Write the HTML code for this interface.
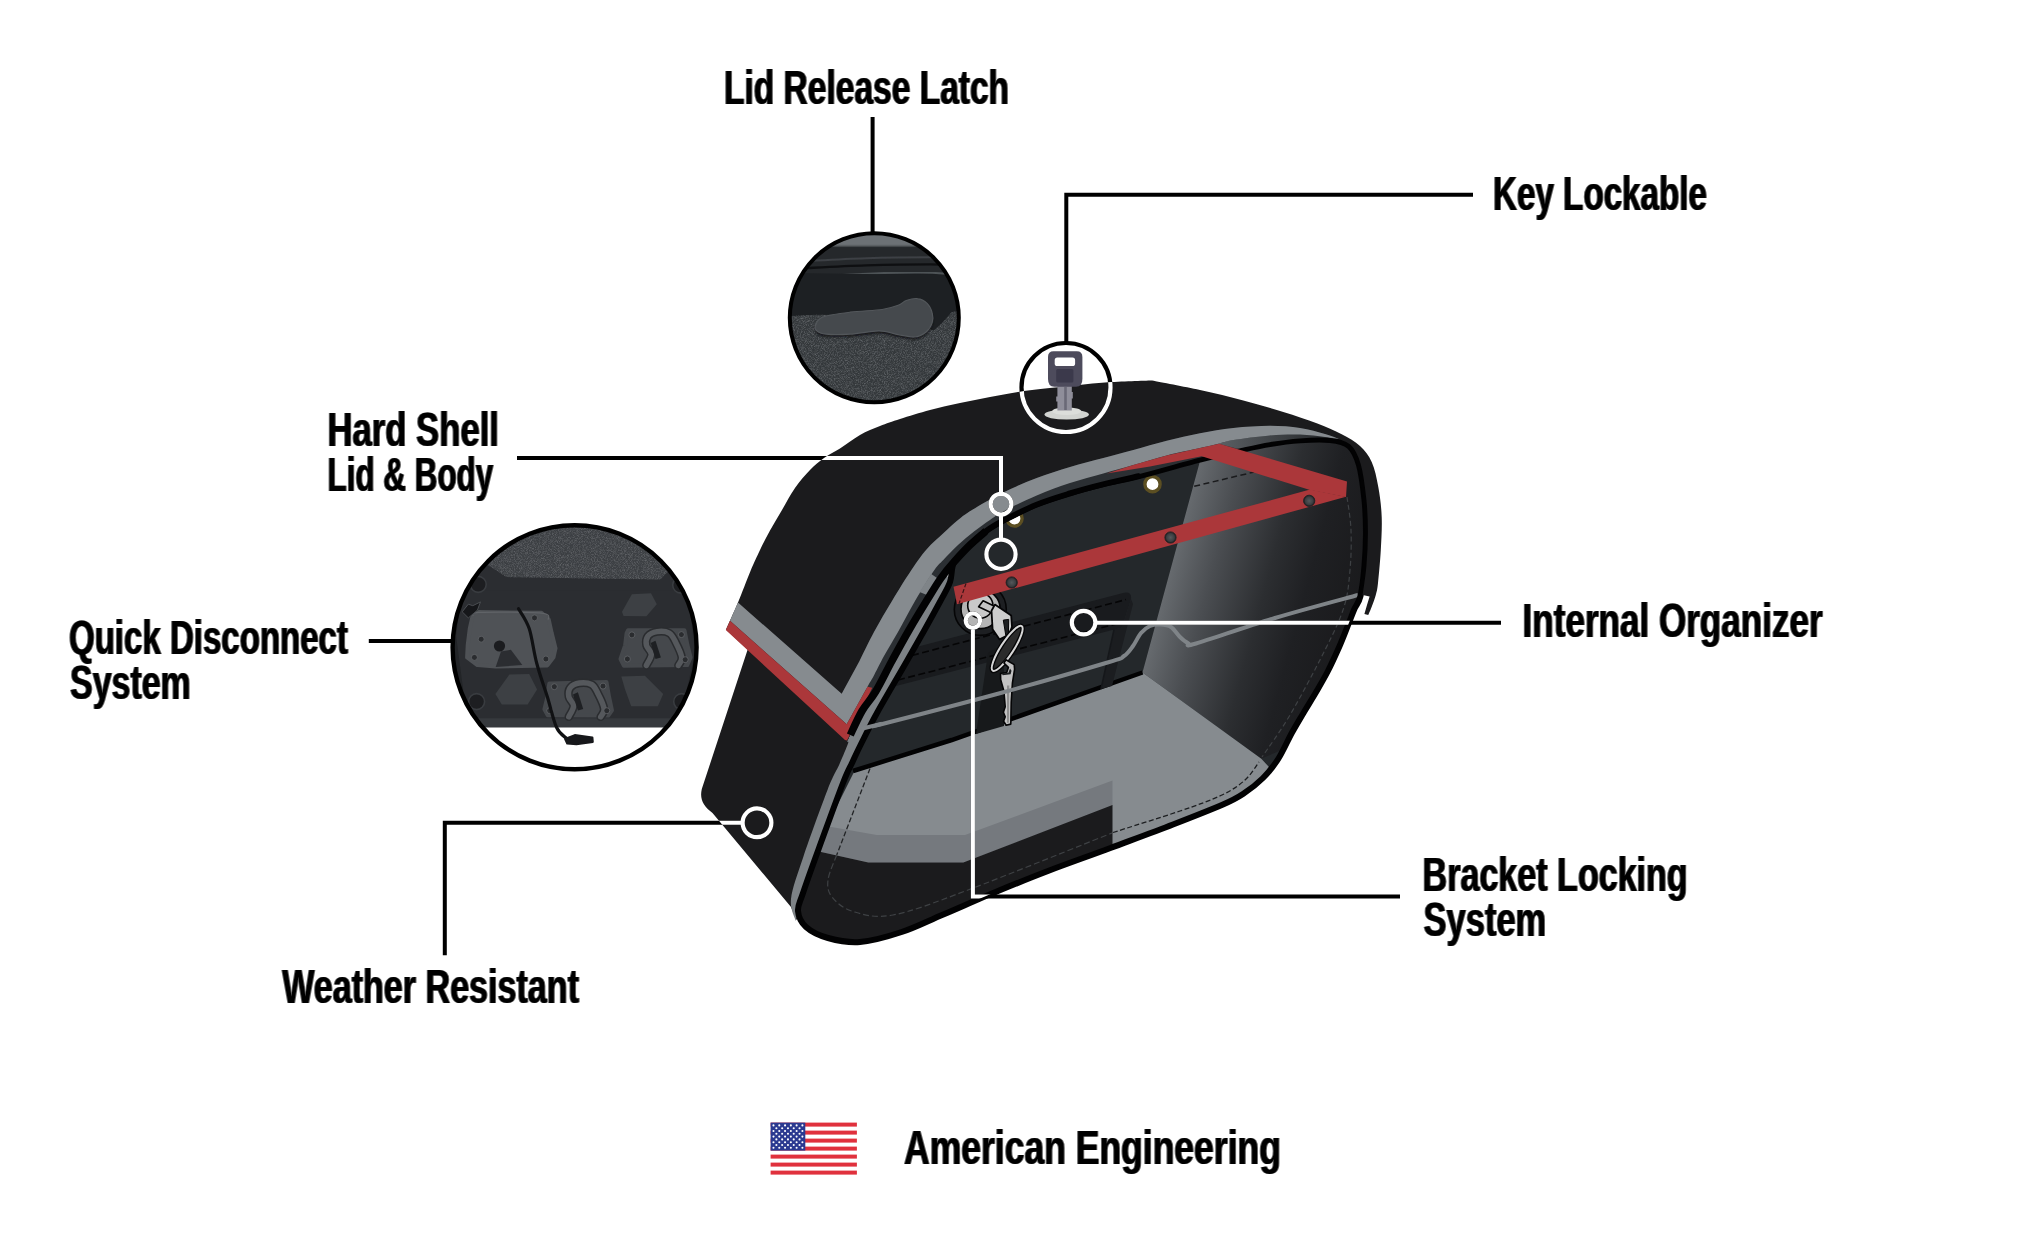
<!DOCTYPE html>
<html><head><meta charset="utf-8"><title>Saddlebag Features</title>
<style>html,body{margin:0;padding:0;background:#fff;overflow:hidden}svg{display:block}text{font-family:"Liberation Sans",sans-serif;font-weight:bold;fill:#000}</style>
</head><body>
<svg width="2044" height="1248" viewBox="0 0 2044 1248">
<rect width="2044" height="1248" fill="#fff"/>
<defs>
<linearGradient id="rw" gradientUnits="userSpaceOnUse" x1="1172" y1="565" x2="1365" y2="617">
<stop offset="0" stop-color="#666a6e"/><stop offset="0.2" stop-color="#4b4e52"/><stop offset="0.48" stop-color="#2c2e31"/><stop offset="0.68" stop-color="#1f2023"/><stop offset="1" stop-color="#19191b"/></linearGradient>
<linearGradient id="rw2" gradientUnits="userSpaceOnUse" x1="1220" y1="440" x2="1340" y2="440">
<stop offset="0" stop-color="#5a5f63"/><stop offset="1" stop-color="#1e2023"/></linearGradient>
<radialGradient id="rv"><stop offset="0" stop-color="#55585b"/><stop offset="0.7" stop-color="#3a3d40"/><stop offset="1" stop-color="#1a1b1d"/></radialGradient>
</defs>
<path d="M760,640 L747.5,650 L701.8,789 C699.5,799 703,806 712.5,813 L791,907 L796.5,920 L880,760 L850,735 Z" fill="#1b1b1d"/>
<clipPath id="bodyclip"><path d="M798.0,911.0 C797.5,905.3 799.5,903.5 803.0,893.0 C806.5,882.5 812.3,866.3 819.0,848.0 C825.7,829.7 837.4,797.3 843.0,783.0 C848.6,768.7 849.4,768.7 852.5,762.0 C855.6,755.3 857.3,751.3 861.5,743.0 C865.7,734.7 869.9,725.7 877.5,712.0 C885.1,698.3 899.1,674.7 906.9,661.0 C914.7,647.3 918.9,640.0 924.5,630.0 C930.1,620.0 936.1,609.0 940.4,601.0 C944.6,593.0 947.7,588.5 950.0,582.0 C952.3,575.5 950.9,567.9 954.2,561.7 C957.5,555.5 964.7,550.1 970.0,545.0 C975.3,539.9 980.5,535.1 986.0,531.0 C991.5,526.9 994.8,524.9 1003.3,520.5 C1011.8,516.1 1025.6,509.0 1036.7,504.5 C1047.8,500.0 1058.9,496.7 1070.0,493.3 C1081.1,489.9 1091.6,487.1 1103.3,484.2 C1115.0,481.3 1123.9,479.9 1140.0,475.8 C1156.1,471.7 1183.0,463.8 1200.0,459.5 C1217.0,455.2 1230.0,452.4 1241.7,449.8 C1253.4,447.2 1260.3,445.6 1270.0,444.0 C1279.7,442.4 1290.0,441.0 1300.0,440.3 C1310.0,439.6 1321.8,439.1 1330.0,440.0 C1338.2,440.9 1344.2,441.8 1349.0,446.0 C1353.8,450.2 1356.4,456.0 1359.0,465.0 C1361.6,474.0 1363.3,488.7 1364.5,500.0 C1365.7,511.3 1366.0,522.0 1366.0,533.0 C1366.0,544.0 1365.4,555.5 1364.5,566.0 C1363.6,576.5 1362.2,588.8 1360.5,596.0 C1358.8,603.2 1356.4,604.3 1354.4,609.0 C1352.4,613.7 1351.0,617.8 1348.5,624.0 C1346.0,630.2 1342.9,638.6 1339.4,646.5 C1335.9,654.4 1331.6,663.9 1327.7,671.5 C1323.8,679.1 1320.0,685.4 1316.0,692.3 C1312.0,699.2 1307.5,706.1 1303.5,712.9 C1299.5,719.7 1296.0,725.4 1291.8,733.0 C1287.6,740.6 1283.3,751.0 1278.5,758.5 C1273.7,766.0 1268.9,772.1 1263.0,778.0 C1257.1,783.9 1249.7,789.6 1243.0,794.0 C1236.3,798.4 1234.7,799.4 1223.0,804.5 C1211.3,809.6 1191.8,817.2 1173.0,824.5 C1154.2,831.8 1131.3,840.2 1110.5,848.0 C1089.7,855.8 1066.8,863.8 1048.0,871.0 C1029.2,878.2 1015.5,883.8 998.0,891.0 C980.5,898.2 959.3,907.7 943.3,914.5 C927.2,921.3 915.6,927.4 901.7,932.0 C887.8,936.6 872.3,941.0 860.0,942.0 C847.7,943.0 837.0,940.5 828.0,938.0 C819.0,935.5 811.0,931.5 806.0,927.0 C801.0,922.5 798.5,916.7 798.0,911.0Z"/></clipPath>
<g clip-path="url(#bodyclip)">
<rect x="780" y="420" width="620" height="540" fill="#24282b"/>
<path d="M1201.3,456.3 L1142.5,672.5 L1261.3,758.8 L1400.0,700.0 L1400.0,420.0 L1201.0,420.0Z" fill="url(#rw)"/>
<path d="M855.0,770.0 L951.7,740.0 L1142.5,672.5 L1261.3,758.8 L1300.0,800.0 L1000.0,960.0 L780.0,960.0 L790.0,900.0Z" fill="#868b8f"/>
<path d="M853,771 L951.7,740 L1142.5,672.5" fill="none" stroke="#020203" stroke-width="4.5"/>
<path d="M790.0,822.0 L830.0,826.7 L876.7,835.0 L965.0,835.0 L1112.5,780.6 L1112.5,806.0 L963.3,862.5 L868.3,862.5 L820.0,851.7 L790.0,848.0Z" fill="#75797e"/>
<path d="M780.0,846.0 L820.0,851.7 L868.3,862.5 L963.3,862.5 L1112.5,805.0 L1112.5,960.0 L780.0,960.0Z" fill="#1b1b1d"/>
<path d="M905,650.1 L1124,592.8 Q1132,591.5 1131,599 L1122,627.5 L895,686.3 Z" fill="#191b1e"/>
<path d="M1122,627.5 L1131,599 L1133,604 L1112,686 L1101,689 L1114,629.5 Z" fill="#1b1d20"/>
<path d="M1114,629.5 L1101,689" stroke="#15171a" stroke-width="1.5" fill="none"/>
<path d="M988,653 L996,648 L1004,650 L1004,726 L976,734 Z" fill="#17191b"/>
<path d="M912,655.4 L1126,599.6" stroke="#050506" stroke-width="1.6" stroke-dasharray="7 3.5" fill="none"/>
<path d="M898,680 L1119,623.2" stroke="#050506" stroke-width="1.6" stroke-dasharray="7 3.5" fill="none"/>
<path d="M1194.2,486.3 L1254.2,472" stroke="#1a1b1d" stroke-width="1.5" stroke-dasharray="6 3.5" fill="none"/>
<path d="M870,768.5 L836.7,855" stroke="#222426" stroke-width="1.3" stroke-dasharray="5 2.5" fill="none"/>
<path d="M836.7,855.0 C835.2,859.2 828.8,873.0 828.0,880.0 C827.2,887.0 827.8,891.8 832.0,897.0 C836.2,902.2 842.8,908.5 853.0,911.5 C863.2,914.5 873.8,918.6 893.0,915.0 C912.2,911.4 931.5,903.7 968.0,890.0 C1004.5,876.3 1088.0,842.5 1112.0,833.0" stroke="#3e4144" stroke-width="1.2" stroke-dasharray="6 3" fill="none"/>
<path d="M1113.0,832.5 C1124.2,828.9 1161.8,817.2 1180.0,811.0 C1198.2,804.8 1211.2,800.2 1222.0,795.0 C1232.8,789.8 1238.8,785.5 1245.0,780.0 C1251.2,774.5 1256.7,765.0 1259.0,762.0" stroke="#1c1e20" stroke-width="1.3" stroke-dasharray="5 2.5" fill="none"/>
<path d="M1347.0,497.0 C1347.7,502.5 1350.5,517.8 1351.0,530.0 C1351.5,542.2 1351.2,557.2 1350.0,570.0 C1348.8,582.8 1348.2,593.7 1344.0,607.0 C1339.8,620.3 1334.0,632.0 1325.0,650.0 C1316.0,668.0 1300.5,697.2 1290.0,715.0 C1279.5,732.8 1266.7,750.0 1262.0,757.0" stroke="#3e4144" stroke-width="1.2" stroke-dasharray="5 3" fill="none"/>
<circle cx="980.3" cy="609.4" r="26" fill="#1d1f22" stroke="#050506" stroke-width="1.6"/>
<circle cx="980.6" cy="609" r="19.6" fill="#b4b4b4" stroke="#050506" stroke-width="1.6"/>
<circle cx="980.3" cy="605.6" r="12.6" fill="#c9c9c9" stroke="#050506" stroke-width="1.6"/>
<path d="M953.5,586.7 L1310,489.6 L1346,496.8 L957,604.2 Z" fill="#ab373a"/>
<path d="M966,583.5 L959,603.5" stroke="#3a1517" stroke-width="1.2" stroke-dasharray="4 2" fill="none"/>
<circle cx="1011.7" cy="582.5" r="5.6" fill="url(#rv)" stroke="#222426" stroke-width="1"/>
<circle cx="1170.5" cy="537.5" r="5.6" fill="url(#rv)" stroke="#222426" stroke-width="1"/>
<circle cx="1309.2" cy="500.8" r="5.6" fill="url(#rv)" stroke="#222426" stroke-width="1"/>
<circle cx="1152.5" cy="484.2" r="7.6" fill="#fff" stroke="#5c4f22" stroke-width="3.4"/>
<circle cx="1014.5" cy="518.5" r="7.6" fill="#fff" stroke="#5c4f22" stroke-width="3.4"/>
<path d="M978.6,606.8 L983.1,600.7 L995.5,606.8 L991.8,613.0Z" fill="#c4c4c4" stroke="#050506" stroke-width="1.6" stroke-linejoin="round"/>
<path d="M994.9,604.6 L1011.2,615.6 L1012.0,627.0 L1008.6,634.9 L999.6,639.4 L992.6,629.3 L991.5,610.8Z" fill="#cdcdcd" stroke="#050506" stroke-width="1.8" stroke-linejoin="round"/>
<path d="M1003.3,620.1 L1008.7,619.4 L1008.4,634.3 L1005.8,635.5Z" fill="#1d1f21" stroke="#050506" stroke-width="1" stroke-linejoin="round"/>
<ellipse cx="1007.2" cy="648.4" rx="26.6" ry="6.4" transform="rotate(-57 1007.2 648.4)" fill="#2b2b2b" stroke="#050506" stroke-width="4.6"/>
<ellipse cx="1007.2" cy="648.4" rx="26.6" ry="6.4" transform="rotate(-57 1007.2 648.4)" fill="none" stroke="#d6d6d6" stroke-width="2"/>
<path d="M1005.9,659.8 L1014.2,664.6 L1014.6,669.1 L1012.4,683.2 L1011.2,702.2 L1010.8,724.1 L1006.1,725.2 L1003.6,721.3 L1005.2,716.8 L1003.4,712.3 L1005.2,706.7 L1003.9,691.0 L1000.7,679.8 L1000.5,673.6 L1006.7,672.5 L1008.4,667.4 L1003.9,663.0Z" fill="#c2c2c2" stroke="#050506" stroke-width="1.6" stroke-linejoin="round"/>
<path d="M1001.9,673.6 L1008.4,672.8 L1010.0,668.6 L1011.5,670.8 L1010.6,674.2 L1002.7,675.3Z" fill="#1d1f21"/>
<path d="M1007.0,685.4 L1009.3,685.4 L1008.9,722.4 L1007.0,723.0Z" fill="#8e8e8e"/>
<path d="M866.0,727.5 C870.0,726.6 867.2,727.8 890.0,722.0 C912.8,716.2 966.2,702.4 1002.5,692.5 C1038.8,682.6 1087.2,668.6 1107.5,662.5 C1127.8,656.4 1119.8,658.8 1124.0,656.0 C1128.2,653.2 1130.2,649.8 1133.0,646.0 C1135.8,642.2 1138.2,636.3 1141.0,633.0 C1143.8,629.7 1146.8,627.4 1150.0,626.0 C1153.2,624.6 1156.5,624.3 1160.0,624.5 C1163.5,624.7 1167.7,624.9 1171.0,627.0 C1174.3,629.1 1177.2,634.3 1180.0,637.0 C1182.8,639.7 1185.3,641.9 1188.0,643.0 C1190.7,644.1 1181.5,647.7 1196.0,643.5 C1210.5,639.3 1248.0,626.1 1275.0,618.0 C1302.0,609.9 1344.2,598.8 1358.0,595.0" stroke="#7f8488" stroke-width="4" fill="none"/>
</g>
<path d="M795.8,921.0 C795.0,917.3 789.8,909.7 791.0,899.0 C792.2,888.3 797.2,875.2 803.3,857.0 C809.4,838.8 821.5,805.5 827.5,790.0 C833.5,774.5 836.1,771.8 839.5,764.0 C842.9,756.2 846.6,747.6 848.0,743.5 C849.4,739.4 845.7,744.9 848.0,739.5 C850.3,734.1 857.4,718.9 862.0,711.0 C866.6,703.1 870.4,700.3 875.4,692.0 C880.4,683.7 886.3,671.3 891.9,661.0 C897.5,650.7 903.3,640.0 909.1,630.0 C914.9,620.0 921.2,609.6 926.5,601.0 C931.8,592.4 937.4,582.6 940.8,578.3 C944.2,574.0 946.0,575.5 947.0,575.0 L950.0,582.0 C948.4,585.2 944.6,593.0 940.4,601.0 C936.1,609.0 930.1,620.0 924.5,630.0 C918.9,640.0 914.7,647.3 906.9,661.0 C899.1,674.7 885.1,698.3 877.5,712.0 C869.9,725.7 865.7,734.7 861.5,743.0 C857.3,751.3 855.6,755.3 852.5,762.0 C849.4,768.7 848.6,768.7 843.0,783.0 C837.4,797.3 825.7,829.7 819.0,848.0 C812.3,866.3 806.5,882.5 803.0,893.0 C799.5,903.5 798.8,908.0 798.0,911.0 Z" fill="#7d8286"/>
<path d="M798.0,911.0 C797.5,905.3 799.5,903.5 803.0,893.0 C806.5,882.5 812.3,866.3 819.0,848.0 C825.7,829.7 837.4,797.3 843.0,783.0 C848.6,768.7 849.4,768.7 852.5,762.0 C855.6,755.3 857.3,751.3 861.5,743.0 C865.7,734.7 869.9,725.7 877.5,712.0 C885.1,698.3 899.1,674.7 906.9,661.0 C914.7,647.3 918.9,640.0 924.5,630.0 C930.1,620.0 936.1,609.0 940.4,601.0 C944.6,593.0 947.7,588.5 950.0,582.0 C952.3,575.5 950.9,567.9 954.2,561.7 C957.5,555.5 964.7,550.1 970.0,545.0 C975.3,539.9 980.5,535.1 986.0,531.0 C991.5,526.9 994.8,524.9 1003.3,520.5 C1011.8,516.1 1025.6,509.0 1036.7,504.5 C1047.8,500.0 1058.9,496.7 1070.0,493.3 C1081.1,489.9 1091.6,487.1 1103.3,484.2 C1115.0,481.3 1123.9,479.9 1140.0,475.8 C1156.1,471.7 1183.0,463.8 1200.0,459.5 C1217.0,455.2 1230.0,452.4 1241.7,449.8 C1253.4,447.2 1260.3,445.6 1270.0,444.0 C1279.7,442.4 1290.0,441.0 1300.0,440.3 C1310.0,439.6 1321.8,439.1 1330.0,440.0 C1338.2,440.9 1344.2,441.8 1349.0,446.0 C1353.8,450.2 1356.4,456.0 1359.0,465.0 C1361.6,474.0 1363.3,488.7 1364.5,500.0 C1365.7,511.3 1366.0,522.0 1366.0,533.0 C1366.0,544.0 1365.4,555.5 1364.5,566.0 C1363.6,576.5 1362.2,588.8 1360.5,596.0 C1358.8,603.2 1356.4,604.3 1354.4,609.0 C1352.4,613.7 1351.0,617.8 1348.5,624.0 C1346.0,630.2 1342.9,638.6 1339.4,646.5 C1335.9,654.4 1331.6,663.9 1327.7,671.5 C1323.8,679.1 1320.0,685.4 1316.0,692.3 C1312.0,699.2 1307.5,706.1 1303.5,712.9 C1299.5,719.7 1296.0,725.4 1291.8,733.0 C1287.6,740.6 1283.3,751.0 1278.5,758.5 C1273.7,766.0 1268.9,772.1 1263.0,778.0 C1257.1,783.9 1249.7,789.6 1243.0,794.0 C1236.3,798.4 1234.7,799.4 1223.0,804.5 C1211.3,809.6 1191.8,817.2 1173.0,824.5 C1154.2,831.8 1131.3,840.2 1110.5,848.0 C1089.7,855.8 1066.8,863.8 1048.0,871.0 C1029.2,878.2 1015.5,883.8 998.0,891.0 C980.5,898.2 959.3,907.7 943.3,914.5 C927.2,921.3 915.6,927.4 901.7,932.0 C887.8,936.6 872.3,941.0 860.0,942.0 C847.7,943.0 837.0,940.5 828.0,938.0 C819.0,935.5 811.0,931.5 806.0,927.0 C801.0,922.5 798.5,916.7 798.0,911.0Z" fill="none" stroke="#020203" stroke-width="6" stroke-linejoin="round"/>
<path d="M861.5,728.7 L882,723.8" stroke="#7f8488" stroke-width="4" fill="none"/>
<path d="M726.0,629.5 C728.0,625.0 733.9,612.2 738.0,602.5 C742.1,592.8 746.8,579.8 750.5,571.0 C754.2,562.2 756.8,556.8 760.0,550.0 C763.2,543.2 766.3,537.2 770.0,530.5 C773.7,523.8 777.8,517.1 782.0,510.0 C786.2,502.9 790.3,494.7 795.0,488.0 C799.7,481.3 805.2,475.0 810.0,470.0 C814.8,465.0 819.0,461.6 824.0,458.0 C829.0,454.4 834.0,452.3 840.0,448.5 C846.0,444.7 853.3,438.8 860.0,435.0 C866.7,431.2 873.3,428.7 880.0,426.0 C886.7,423.3 891.7,421.7 900.0,419.0 C908.3,416.3 920.0,412.7 930.0,410.0 C940.0,407.3 950.0,405.2 960.0,403.0 C970.0,400.8 980.0,398.9 990.0,397.0 C1000.0,395.1 1009.2,393.3 1020.0,391.7 C1030.8,390.1 1040.8,389.0 1055.0,387.5 C1069.2,386.0 1088.8,383.7 1105.0,382.5 C1121.2,381.3 1144.2,380.8 1152.0,380.5 L1152.0,380.5 C1160.0,382.1 1184.8,386.7 1200.0,390.0 C1215.2,393.3 1229.4,396.8 1243.3,400.5 C1257.2,404.2 1271.1,408.2 1283.3,412.0 C1295.5,415.8 1307.0,419.5 1316.7,423.2 C1326.4,426.9 1334.5,430.5 1341.7,434.3 C1348.9,438.1 1355.0,441.4 1360.0,446.0 C1365.0,450.6 1368.7,455.2 1371.7,462.0 C1374.8,468.8 1376.6,477.8 1378.3,487.0 C1380.0,496.2 1381.3,506.5 1381.7,517.0 C1382.1,527.5 1381.4,539.0 1380.8,550.0 C1380.2,561.0 1378.8,575.5 1378.0,583.0 C1377.2,590.5 1376.8,591.2 1375.8,595.0 C1374.8,598.8 1373.2,602.7 1372.0,606.0 C1370.8,609.3 1368.9,613.5 1368.3,615.0 L1364.4,614 L1367,605 L1369.6,596.5 L1360.5,594.4 L1360.5,596.0 C1361.2,591.0 1363.6,576.5 1364.5,566.0 C1365.4,555.5 1366.0,544.0 1366.0,533.0 C1366.0,522.0 1365.7,511.3 1364.5,500.0 C1363.3,488.7 1361.6,474.0 1359.0,465.0 C1356.4,456.0 1353.8,450.2 1349.0,446.0 C1344.2,441.8 1338.2,440.9 1330.0,440.0 C1321.8,439.1 1310.0,439.6 1300.0,440.3 C1290.0,441.0 1279.7,442.4 1270.0,444.0 C1260.3,445.6 1253.4,447.2 1241.7,449.8 C1230.0,452.4 1217.0,455.2 1200.0,459.5 C1183.0,463.8 1156.1,471.7 1140.0,475.8 C1123.9,479.9 1115.0,481.3 1103.3,484.2 C1091.6,487.1 1081.1,489.9 1070.0,493.3 C1058.9,496.7 1047.8,500.0 1036.7,504.5 C1025.6,509.0 1011.8,516.1 1003.3,520.5 C994.8,524.9 991.5,526.9 986.0,531.0 C980.5,535.1 975.3,539.9 970.0,545.0 C964.7,550.1 959.1,556.2 954.2,561.7 C949.3,567.2 945.4,571.8 940.8,578.3 C936.2,584.8 931.8,592.4 926.5,601.0 C921.2,609.6 914.9,620.0 909.1,630.0 C903.3,640.0 897.5,650.7 891.9,661.0 C886.3,671.3 880.4,683.7 875.4,692.0 C870.4,700.3 866.6,703.1 862.0,711.0 C857.4,718.9 850.3,734.8 848.0,739.5 L845,739.5 Z" fill="#1b1b1d"/>
<path d="M841.7,693.8 C844.7,688.3 854.1,671.3 859.5,661.0 C864.9,650.7 868.6,642.0 874.0,632.0 C879.4,622.0 885.8,611.3 892.0,601.0 C898.2,590.7 905.6,578.6 911.4,570.0 C917.2,561.4 921.4,555.3 926.7,549.2 C932.0,543.1 938.1,538.2 943.3,533.3 C948.5,528.4 953.2,523.9 958.0,520.0 C962.8,516.1 964.5,514.6 972.0,510.0 C979.5,505.4 992.5,497.8 1003.3,492.5 C1014.1,487.2 1025.6,482.2 1036.7,478.0 C1047.8,473.8 1058.9,470.3 1070.0,467.0 C1081.1,463.7 1092.8,460.8 1103.3,458.0 C1113.8,455.2 1122.7,452.9 1133.3,450.0 C1143.9,447.1 1155.6,443.6 1166.7,440.8 C1177.8,438.0 1188.9,435.4 1200.0,433.3 C1211.1,431.2 1221.6,429.2 1233.3,428.0 C1245.0,426.8 1258.9,425.8 1270.0,425.8 C1281.1,425.8 1290.8,426.6 1300.0,428.0 C1309.2,429.4 1318.3,432.1 1325.0,434.0 C1331.7,435.9 1337.5,438.6 1340.0,439.5 L1330.0,440.0 C1325.0,440.1 1310.0,439.6 1300.0,440.3 C1290.0,441.0 1279.7,442.4 1270.0,444.0 C1260.3,445.6 1253.4,447.2 1241.7,449.8 C1230.0,452.4 1217.0,455.2 1200.0,459.5 C1183.0,463.8 1156.1,471.7 1140.0,475.8 C1123.9,479.9 1115.0,481.3 1103.3,484.2 C1091.6,487.1 1081.1,489.9 1070.0,493.3 C1058.9,496.7 1047.8,500.0 1036.7,504.5 C1025.6,509.0 1011.8,516.1 1003.3,520.5 C994.8,524.9 991.5,526.9 986.0,531.0 C980.5,535.1 975.3,539.9 970.0,545.0 C964.7,550.1 959.1,556.2 954.2,561.7 C949.3,567.2 945.4,571.8 940.8,578.3 C936.2,584.8 931.8,592.4 926.5,601.0 C921.2,609.6 914.9,620.0 909.1,630.0 C903.3,640.0 897.5,650.7 891.9,661.0 C886.3,671.3 880.4,683.7 875.4,692.0 C870.4,700.3 866.6,703.1 862.0,711.0 C857.4,718.9 850.3,734.8 848.0,739.5 Z" fill="#2b2f33"/>
<path d="M1218.3,443.8 C1220.8,443.1 1224.7,441.4 1233.3,440.0 C1241.9,438.6 1258.9,436.3 1270.0,435.4 C1281.1,434.5 1290.8,434.2 1300.0,434.5 C1309.2,434.8 1318.3,436.2 1325.0,437.0 C1331.7,437.8 1337.5,439.1 1340.0,439.5 L1330.0,440.0 C1325.0,440.1 1310.0,439.6 1300.0,440.3 C1290.0,441.0 1279.7,442.4 1270.0,444.0 C1260.3,445.6 1246.4,448.8 1241.7,449.8 Z" fill="url(#rw2)"/>
<path d="M738,602.5 L841.7,693.75 L859.5,661.0 C861.9,656.2 868.6,642.0 874.0,632.0 C879.4,622.0 885.8,611.3 892.0,601.0 C898.2,590.7 905.6,578.6 911.4,570.0 C917.2,561.4 921.4,555.3 926.7,549.2 C932.0,543.1 938.1,538.2 943.3,533.3 C948.5,528.4 953.2,523.9 958.0,520.0 C962.8,516.1 964.5,514.6 972.0,510.0 C979.5,505.4 992.5,497.8 1003.3,492.5 C1014.1,487.2 1025.6,482.2 1036.7,478.0 C1047.8,473.8 1058.9,470.3 1070.0,467.0 C1081.1,463.7 1092.8,460.8 1103.3,458.0 C1113.8,455.2 1122.7,452.9 1133.3,450.0 C1143.9,447.1 1155.6,443.6 1166.7,440.8 C1177.8,438.0 1188.9,435.4 1200.0,433.3 C1211.1,431.2 1221.6,429.2 1233.3,428.0 C1245.0,426.8 1258.9,425.8 1270.0,425.8 C1281.1,425.8 1290.8,426.6 1300.0,428.0 C1309.2,429.4 1318.3,432.1 1325.0,434.0 C1331.7,435.9 1337.5,438.6 1340.0,439.5 L1340.0,439.5 C1337.5,439.1 1331.7,437.8 1325.0,437.0 C1318.3,436.2 1309.2,434.8 1300.0,434.5 C1290.8,434.2 1281.1,434.5 1270.0,435.4 C1258.9,436.3 1241.9,438.6 1233.3,440.0 C1224.7,441.4 1223.8,442.4 1218.3,443.8 C1212.8,445.1 1208.6,446.1 1200.0,448.0 C1191.4,449.9 1177.8,452.6 1166.7,455.4 C1155.6,458.2 1143.9,462.0 1133.3,465.0 C1122.7,468.0 1113.8,470.5 1103.3,473.5 C1092.8,476.5 1081.1,479.3 1070.0,483.0 C1058.9,486.7 1047.8,490.8 1036.7,495.5 C1025.6,500.2 1011.1,507.4 1003.3,511.5 C995.5,515.6 994.9,516.7 990.0,520.0 C985.1,523.3 979.3,527.3 974.0,531.5 C968.7,535.7 963.1,540.2 958.0,545.0 C952.9,549.8 947.2,555.8 943.3,560.0 C939.4,564.2 939.1,563.2 934.4,570.0 C929.7,576.8 921.1,590.7 915.0,601.0 C908.9,611.3 903.2,622.8 898.0,632.0 C892.8,641.2 888.1,648.5 884.0,656.0 C879.9,663.5 876.0,671.6 873.3,676.7 C870.5,681.8 871.9,678.8 867.5,686.7 C863.1,694.6 850.2,718.0 846.7,724.2 L730,620.8 Z" fill="#868b8f"/>
<path d="M931.2,574 L938.5,579 L927,595 L919.5,592 Z" fill="#7f8488"/>
<path d="M730,620.8 L846.7,724.2 L867.5,686.7 L872.2,687.8 L847,740.5 L845,740 L725.8,630 Z" fill="#ab373a"/>
<path d="M850.3,735.0 C852.2,731.0 857.8,718.2 862.0,711.0 C866.2,703.8 870.4,700.3 875.4,692.0 C880.4,683.7 886.3,671.3 891.9,661.0 C897.5,650.7 903.3,640.0 909.1,630.0 C914.9,620.0 921.2,609.6 926.5,601.0 C931.8,592.4 936.2,584.8 940.8,578.3 C945.4,571.8 949.3,567.2 954.2,561.7 C959.1,556.2 964.7,550.1 970.0,545.0 C975.3,539.9 983.3,533.3 986.0,531.0" fill="none" stroke="#020203" stroke-width="7.5"/>
<path d="M970.0,545.0 C972.7,542.7 980.5,535.1 986.0,531.0 C991.5,526.9 994.8,524.9 1003.3,520.5 C1011.8,516.1 1025.6,509.0 1036.7,504.5 C1047.8,500.0 1058.9,496.7 1070.0,493.3 C1081.1,489.9 1091.6,487.1 1103.3,484.2 C1115.0,481.3 1133.9,477.2 1140.0,475.8" fill="none" stroke="#020203" stroke-width="5.6"/>
<path d="M1103.3,484.2 C1109.4,482.8 1123.9,479.9 1140.0,475.8 C1156.1,471.7 1183.0,463.8 1200.0,459.5 C1217.0,455.2 1230.0,452.4 1241.7,449.8 C1253.4,447.2 1260.3,445.6 1270.0,444.0 C1279.7,442.4 1290.0,441.0 1300.0,440.3 C1310.0,439.6 1321.8,439.1 1330.0,440.0 C1338.2,440.9 1344.2,441.8 1349.0,446.0 C1353.8,450.2 1356.4,456.0 1359.0,465.0 C1361.6,474.0 1363.3,488.7 1364.5,500.0 C1365.7,511.3 1366.0,522.0 1366.0,533.0 C1366.0,544.0 1365.4,555.5 1364.5,566.0 C1363.6,576.5 1361.2,591.0 1360.5,596.0" fill="none" stroke="#020203" stroke-width="3.8"/>
<path d="M1106.7,473.5 L1133.3,465 L1166.7,455.4 L1200,448 L1219.2,443.7 L1347,481.5 L1346,497 L1310,490 L1201.7,456.3 L1150,466.5 Z" fill="#ab373a"/>
<defs>
<filter id="grain" x="0" y="0" width="100%" height="100%"><feTurbulence type="fractalNoise" baseFrequency="1.3" numOctaves="3" seed="3" result="n"/><feColorMatrix in="n" type="matrix" values="0 0 0 0 0.55  0 0 0 0 0.57  0 0 0 0 0.6  2.2 0 0 0 -0.85"/></filter>
<filter id="grain2" x="0" y="0" width="100%" height="100%"><feTurbulence type="fractalNoise" baseFrequency="1.3" numOctaves="3" seed="8" result="n"/><feColorMatrix in="n" type="matrix" values="0 0 0 0 0.6  0 0 0 0 0.61  0 0 0 0 0.63  2.2 0 0 0 -0.85"/></filter>
<filter id="soft"><feGaussianBlur stdDeviation="1.2"/></filter>
<filter id="soft2"><feGaussianBlur stdDeviation="0.7"/></filter>
<clipPath id="c1"><circle cx="874.3" cy="317.8" r="84.5"/></clipPath>
<clipPath id="c2"><circle cx="574.6" cy="647.2" r="122"/></clipPath>
</defs>
<g clip-path="url(#c1)">
<rect x="785" y="228" width="180" height="180" fill="#34383b"/>
<path d="M786.0,232.8 L962.4,232.8 L962.4,309.8 L951.1,312.2 L942.3,322.6 L933.5,330.6 L914.3,322.6 L866.2,316.2 L818.1,314.6 L786.0,316.2Z" fill="#1d2023"/>
<path d="M818.1,229.6 L930.3,229.6 L930.3,244.0 L914.3,246.5 L834.1,246.5 L818.1,244.0Z" fill="#6c7175" filter="url(#soft)"/>
<path d="M786.0,247.3 L962.4,247.3 L962.4,272.9 L786.0,275.3Z" fill="#25282b"/>
<path d="M810.1,260.9 C819.4,260.4 846.1,258.8 866.2,258.2 C886.2,257.5 915.6,257.2 930.3,257.2 C945.0,257.1 950.3,257.7 954.4,257.8" fill="none" stroke="#3c4044" stroke-width="2" filter="url(#soft2)"/>
<path d="M806.9,268.1 C816.8,267.6 845.6,266.0 866.2,265.4 C886.8,264.8 915.3,264.4 930.3,264.4 C945.3,264.4 951.7,265.1 956.0,265.2" fill="none" stroke="#0e0f11" stroke-width="2.4"/>
<path d="M802.1,277.7 C810.1,277.2 831.5,275.4 850.2,274.5 C868.9,273.6 898.2,272.7 914.3,272.6 C930.3,272.4 938.9,273.1 946.3,273.7 C953.8,274.3 957.0,276.0 959.2,276.4" fill="none" stroke="#4d5256" stroke-width="2" filter="url(#soft2)"/>
<rect x="785" y="310" width="180" height="100" fill="#000" filter="url(#grain)" opacity="0.3"/>
<path d="M786.0,272.9 L962.4,275.3 L962.4,309.8 L951.1,312.2 L942.3,322.6 L933.5,330.6 L914.3,322.6 L866.2,316.2 L818.1,314.6 L786.0,316.2Z" fill="#1d2023"/>
<path d="M815.7,325.0 C816.7,322.7 817.2,319.1 822.9,317.0 C828.6,314.8 840.3,313.4 850.2,312.2 C860.0,310.9 874.2,310.6 882.2,309.5 C890.2,308.3 894.2,306.8 898.2,305.3 C902.3,303.8 903.1,301.6 906.3,300.5 C909.5,299.4 914.0,298.1 917.5,298.6 C921.0,299.0 924.6,301.0 927.1,303.4 C929.6,305.8 931.4,309.8 932.2,313.0 C933.1,316.2 933.3,319.4 932.2,322.6 C931.2,325.8 928.8,329.8 925.8,332.2 C922.8,334.6 918.9,336.6 914.3,337.0 C909.7,337.4 904.1,335.6 898.2,334.6 C892.4,333.6 887.0,331.0 879.0,330.9 C871.0,330.9 859.0,333.6 850.2,334.1 C841.3,334.7 831.7,334.7 826.1,334.1 C820.6,333.6 818.5,332.5 816.8,330.9 C815.1,329.4 814.7,327.3 815.7,325.0Z" fill="#16181a" transform="translate(0,2.5)" filter="url(#soft)"/>
<path d="M815.7,325.0 C816.7,322.7 817.2,319.1 822.9,317.0 C828.6,314.8 840.3,313.4 850.2,312.2 C860.0,310.9 874.2,310.6 882.2,309.5 C890.2,308.3 894.2,306.8 898.2,305.3 C902.3,303.8 903.1,301.6 906.3,300.5 C909.5,299.4 914.0,298.1 917.5,298.6 C921.0,299.0 924.6,301.0 927.1,303.4 C929.6,305.8 931.4,309.8 932.2,313.0 C933.1,316.2 933.3,319.4 932.2,322.6 C931.2,325.8 928.8,329.8 925.8,332.2 C922.8,334.6 918.9,336.6 914.3,337.0 C909.7,337.4 904.1,335.6 898.2,334.6 C892.4,333.6 887.0,331.0 879.0,330.9 C871.0,330.9 859.0,333.6 850.2,334.1 C841.3,334.7 831.7,334.7 826.1,334.1 C820.6,333.6 818.5,332.5 816.8,330.9 C815.1,329.4 814.7,327.3 815.7,325.0Z" fill="#45494d" stroke="#53575b" stroke-width="1.2"/>
</g>
<circle cx="874.3" cy="317.8" r="84.5" fill="none" stroke="#000" stroke-width="4"/>
<g clip-path="url(#c2)">
<rect x="450" y="522" width="250" height="250" fill="#2b2d31"/>
<path d="M442.4,520.4 L708.8,520.4 L708.8,569.1 L672.3,567.6 L660.1,579.8 L506.3,577.1 L486.5,564.6 L442.4,563.0Z" fill="#3c3f43"/>
<rect x="450" y="522" width="250" height="62" fill="#000" filter="url(#grain2)" opacity="0.26"/>
<path d="M442.4,563.0 L486.5,564.6 L506.3,577.1 L660.1,579.8 L672.3,567.6 L708.8,569.1 L708.8,590.5 L442.4,590.5Z" fill="#2b2d31"/>
<path d="M442.4,563.0 L465.2,564.6 L456.1,636.1 L468.3,727.5 L442.4,727.5Z" fill="#222427"/>
<path d="M684.5,569.1 L708.8,569.1 L708.8,727.5 L678.4,727.5 L695.1,651.4Z" fill="#25272a"/>
<path d="M631.9,594.3 L651.0,593.2 L656.8,604.2 L646.4,616.3 L623.6,616.0 L622.0,611.8Z" fill="#3d4044"/>
<path d="M509.4,674.5 L529.2,673.9 L537.1,689.4 L527.6,704.6 L501.8,704.6 L495.4,694.0Z" fill="#3d4044"/>
<path d="M621.3,676.5 L644.9,675.7 L663.2,694.0 L657.8,706.2 L631.2,706.2 L625.1,689.4Z" fill="#3d4044"/>
<path d="M442.4,718.3 L708.8,718.3 L708.8,729.0 L442.4,729.0Z" fill="#36393d"/>
<path d="M442.4,727.5 L708.8,727.5 L708.8,773.2 L442.4,773.2Z" fill="#fff"/>
<path d="M472.8,615.1 L478.9,612.1 L541.4,612.8 L548.7,619.4 L551.7,633.1 L555.5,648.3 L553.5,657.4 L547.4,665.4 L495.7,666.6 L477.4,665.1 L467.1,657.4 L467.7,645.3 L469.8,628.5Z" fill="#4f5256" stroke="#4f5256" stroke-width="4" stroke-linejoin="round" />
<path d="M472.8,615.6 C473.9,615.0 467.5,612.8 478.9,612.4 C490.3,612.0 529.8,611.9 541.4,613.1 C552.9,614.4 547.2,618.6 548.4,619.7" fill="none" stroke="#606367" stroke-width="1.2"/>
<path d="M495.7,666.9 L501.0,651.4 L510.9,649.8 L522.3,665.1Z" fill="#2b2d31"/>
<circle cx="499.5" cy="646.0" r="5.6" fill="#1b1c1f"/>
<path d="M628.1,630.3 L684.5,630.3 L687.5,645.3 L690.6,657.4 L687.2,665.1 L623.9,665.8 L620.5,659.0 L625.1,645.3 L626.6,633.1Z" fill="#45484c" stroke="#45484c" stroke-width="4" stroke-linejoin="round" />
<path d="M549.3,683.6 L606.5,682.1 L609.1,697.0 L612.0,710.4 L608.3,715.6 L547.7,715.3 L544.4,709.2 L547.4,697.0Z" fill="#45484c" stroke="#45484c" stroke-width="4" stroke-linejoin="round" />
<path d="M646.4,665.4 C647.2,663.5 651.3,657.7 651.3,654.4 C651.3,651.0 647.0,648.3 646.4,645.3 C645.8,642.2 646.2,638.4 647.9,636.1 C649.7,633.8 653.5,632.1 657.1,631.6 C660.6,631.1 666.1,631.3 669.2,633.1 C672.3,634.9 673.6,638.2 675.6,642.2 C677.7,646.3 681.3,653.6 681.7,657.4 C682.2,661.3 678.9,664.0 678.4,665.4" fill="none" stroke="#2a2c2f" stroke-width="8.5" stroke-linecap="round" stroke-linejoin="round"/>
<path d="M646.4,665.4 C647.2,663.5 651.3,657.7 651.3,654.4 C651.3,651.0 647.0,648.3 646.4,645.3 C645.8,642.2 646.2,638.4 647.9,636.1 C649.7,633.8 653.5,632.1 657.1,631.6 C660.6,631.1 666.1,631.3 669.2,633.1 C672.3,634.9 673.6,638.2 675.6,642.2 C677.7,646.3 681.3,653.6 681.7,657.4 C682.2,661.3 678.9,664.0 678.4,665.4" fill="none" stroke="#55585c" stroke-width="5.5" stroke-linecap="round" stroke-linejoin="round"/>
<path d="M650.7,643.0 L655.5,640.7 L660.9,657.4 L655.5,659.0Z" fill="#1e2023"/>
<path d="M568.8,716.8 C569.6,715.0 573.6,709.2 573.6,705.9 C573.6,702.5 569.3,699.8 568.8,696.7 C568.2,693.7 568.5,689.9 570.3,687.6 C572.1,685.3 575.9,683.5 579.4,683.0 C583.0,682.5 588.5,682.8 591.6,684.5 C594.7,686.3 595.9,689.6 598.0,693.7 C600.1,697.7 603.6,705.0 604.1,708.9 C604.5,712.8 601.3,715.5 600.7,716.8" fill="none" stroke="#2a2c2f" stroke-width="8.5" stroke-linecap="round" stroke-linejoin="round"/>
<path d="M568.8,716.8 C569.6,715.0 573.6,709.2 573.6,705.9 C573.6,702.5 569.3,699.8 568.8,696.7 C568.2,693.7 568.5,689.9 570.3,687.6 C572.1,685.3 575.9,683.5 579.4,683.0 C583.0,682.5 588.5,682.8 591.6,684.5 C594.7,686.3 595.9,689.6 598.0,693.7 C600.1,697.7 603.6,705.0 604.1,708.9 C604.5,712.8 601.3,715.5 600.7,716.8" fill="none" stroke="#55585c" stroke-width="5.5" stroke-linecap="round" stroke-linejoin="round"/>
<path d="M573.0,694.4 L577.9,692.2 L583.2,708.9 L577.9,710.4Z" fill="#1e2023"/>
<circle cx="481.2" cy="639.2" r="3" fill="#2a2c2f" stroke="#63666a" stroke-width="0.8"/>
<circle cx="534.5" cy="617.9" r="3" fill="#2a2c2f" stroke="#63666a" stroke-width="0.8"/>
<circle cx="545.9" cy="659.0" r="3" fill="#2a2c2f" stroke="#63666a" stroke-width="0.8"/>
<circle cx="474.4" cy="657.4" r="3" fill="#2a2c2f" stroke="#63666a" stroke-width="0.8"/>
<circle cx="631.9" cy="634.9" r="3" fill="#2a2c2f" stroke="#63666a" stroke-width="0.8"/>
<circle cx="681.4" cy="634.6" r="3" fill="#2a2c2f" stroke="#63666a" stroke-width="0.8"/>
<circle cx="627.4" cy="659.0" r="3" fill="#2a2c2f" stroke="#63666a" stroke-width="0.8"/>
<circle cx="685.2" cy="659.7" r="3" fill="#2a2c2f" stroke="#63666a" stroke-width="0.8"/>
<circle cx="554.3" cy="686.7" r="3" fill="#2a2c2f" stroke="#63666a" stroke-width="0.8"/>
<circle cx="603.0" cy="686.1" r="3" fill="#2a2c2f" stroke="#63666a" stroke-width="0.8"/>
<circle cx="549.7" cy="710.7" r="3" fill="#2a2c2f" stroke="#63666a" stroke-width="0.8"/>
<circle cx="606.8" cy="710.7" r="3" fill="#2a2c2f" stroke="#63666a" stroke-width="0.8"/>
<circle cx="478.2" cy="584.4" r="8" fill="#1d1e21" stroke="#393c40" stroke-width="1.6"/>
<circle cx="476.6" cy="701.6" r="8" fill="#1d1e21" stroke="#393c40" stroke-width="1.6"/>
<circle cx="680.7" cy="585.1" r="8" fill="#1d1e21" stroke="#393c40" stroke-width="1.6"/>
<circle cx="681.7" cy="701.6" r="8" fill="#1d1e21" stroke="#393c40" stroke-width="1.6"/>
<path d="M462.2,611.8 L468.3,604.2 L472.8,605.7 L480.5,601.9 L477.4,610.2 L468.3,617.9Z" fill="#16171a" stroke="#4a4d51" stroke-width="1"/>
<path d="M518.5,608.7 C520.3,612.0 526.1,619.4 529.2,628.5 C532.2,637.6 533.7,652.1 536.8,663.5 C539.8,675.0 544.1,686.4 547.4,697.0 C550.7,707.7 553.4,720.6 556.6,727.5 C559.7,734.4 564.8,736.6 566.5,738.4" fill="none" stroke="#101113" stroke-width="3.2" stroke-linecap="round"/>
<path d="M565.0,738.9 L574.8,735.1 L592.4,737.4 L592.8,741.9 L576.4,744.2 L567.2,743.5Z" fill="#17181b" stroke="#17181b" stroke-width="2" stroke-linejoin="round" />
</g>
<circle cx="574.6" cy="647.2" r="122" fill="none" stroke="#000" stroke-width="4.4"/>
<ellipse cx="1066.7" cy="414.6" rx="22.2" ry="5" fill="#d2d4d1"/>
<ellipse cx="1066.7" cy="411.2" rx="14.5" ry="3.8" fill="#dcdedb"/>
<rect x="1057.4" y="385" width="14.4" height="25.5" fill="#8f8e9a"/>
<rect x="1064.2" y="387" width="2.6" height="23" fill="#6a6977"/>
<rect x="1056.2" y="396.5" width="2.4" height="5" fill="#8f8e9a"/><rect x="1070.6" y="392" width="2.2" height="6.5" fill="#8f8e9a"/>
<path d="M1053.5,351.2 H1076.8 Q1082.4,351.2 1082.4,357 V379 Q1082.4,386.8 1076,386.8 H1054.4 Q1048,386.8 1048,379 V357 Q1048,351.2 1053.5,351.2 Z" fill="#4d4b5c"/>
<rect x="1054.7" y="357.4" width="20.4" height="8.6" rx="2.6" fill="#fff"/>
<rect x="1056.2" y="369" width="17.2" height="13.6" rx="1.5" fill="#3b394b"/>
<clipPath id="bagclip"><path d="M726.0,629.5 C728.0,625.0 733.9,612.2 738.0,602.5 C742.1,592.8 746.8,579.8 750.5,571.0 C754.2,562.2 756.8,556.8 760.0,550.0 C763.2,543.2 766.3,537.2 770.0,530.5 C773.7,523.8 777.8,517.1 782.0,510.0 C786.2,502.9 790.3,494.7 795.0,488.0 C799.7,481.3 805.2,475.0 810.0,470.0 C814.8,465.0 819.0,461.6 824.0,458.0 C829.0,454.4 834.0,452.3 840.0,448.5 C846.0,444.7 853.3,438.8 860.0,435.0 C866.7,431.2 873.3,428.7 880.0,426.0 C886.7,423.3 891.7,421.7 900.0,419.0 C908.3,416.3 920.0,412.7 930.0,410.0 C940.0,407.3 950.0,405.2 960.0,403.0 C970.0,400.8 980.0,398.9 990.0,397.0 C1000.0,395.1 1009.2,393.3 1020.0,391.7 C1030.8,390.1 1040.8,389.0 1055.0,387.5 C1069.2,386.0 1088.8,383.7 1105.0,382.5 C1121.2,381.3 1144.2,380.8 1152.0,380.5 L1152.0,380.5 C1160.0,382.1 1184.8,386.7 1200.0,390.0 C1215.2,393.3 1229.4,396.8 1243.3,400.5 C1257.2,404.2 1271.1,408.2 1283.3,412.0 C1295.5,415.8 1307.0,419.5 1316.7,423.2 C1326.4,426.9 1334.5,430.5 1341.7,434.3 C1348.9,438.1 1355.0,441.4 1360.0,446.0 C1365.0,450.6 1368.7,455.2 1371.7,462.0 C1374.8,468.8 1376.6,477.8 1378.3,487.0 C1380.0,496.2 1381.3,506.5 1381.7,517.0 C1382.1,527.5 1381.4,539.0 1380.8,550.0 C1380.2,561.0 1378.8,575.5 1378.0,583.0 C1377.2,590.5 1376.8,591.2 1375.8,595.0 C1374.8,598.8 1373.2,602.7 1372.0,606.0 C1370.8,609.3 1368.9,613.5 1368.3,615.0 L1364.4,614 L1367,605 L1369.6,596.5 L1360.5,594.4 L1360.5,596.0 C1361.2,591.0 1363.6,576.5 1364.5,566.0 C1365.4,555.5 1366.0,544.0 1366.0,533.0 C1366.0,522.0 1365.7,511.3 1364.5,500.0 C1363.3,488.7 1361.6,474.0 1359.0,465.0 C1356.4,456.0 1353.8,450.2 1349.0,446.0 C1344.2,441.8 1338.2,440.9 1330.0,440.0 C1321.8,439.1 1310.0,439.6 1300.0,440.3 C1290.0,441.0 1279.7,442.4 1270.0,444.0 C1260.3,445.6 1253.4,447.2 1241.7,449.8 C1230.0,452.4 1217.0,455.2 1200.0,459.5 C1183.0,463.8 1156.1,471.7 1140.0,475.8 C1123.9,479.9 1115.0,481.3 1103.3,484.2 C1091.6,487.1 1081.1,489.9 1070.0,493.3 C1058.9,496.7 1047.8,500.0 1036.7,504.5 C1025.6,509.0 1011.8,516.1 1003.3,520.5 C994.8,524.9 991.5,526.9 986.0,531.0 C980.5,535.1 975.3,539.9 970.0,545.0 C964.7,550.1 959.1,556.2 954.2,561.7 C949.3,567.2 945.4,571.8 940.8,578.3 C936.2,584.8 931.8,592.4 926.5,601.0 C921.2,609.6 914.9,620.0 909.1,630.0 C903.3,640.0 897.5,650.7 891.9,661.0 C886.3,671.3 880.4,683.7 875.4,692.0 C870.4,700.3 866.6,703.1 862.0,711.0 C857.4,718.9 850.3,734.8 848.0,739.5 L845,739.5 Z"/><path d="M798.0,911.0 C797.5,905.3 799.5,903.5 803.0,893.0 C806.5,882.5 812.3,866.3 819.0,848.0 C825.7,829.7 837.4,797.3 843.0,783.0 C848.6,768.7 849.4,768.7 852.5,762.0 C855.6,755.3 857.3,751.3 861.5,743.0 C865.7,734.7 869.9,725.7 877.5,712.0 C885.1,698.3 899.1,674.7 906.9,661.0 C914.7,647.3 918.9,640.0 924.5,630.0 C930.1,620.0 936.1,609.0 940.4,601.0 C944.6,593.0 947.7,588.5 950.0,582.0 C952.3,575.5 950.9,567.9 954.2,561.7 C957.5,555.5 964.7,550.1 970.0,545.0 C975.3,539.9 980.5,535.1 986.0,531.0 C991.5,526.9 994.8,524.9 1003.3,520.5 C1011.8,516.1 1025.6,509.0 1036.7,504.5 C1047.8,500.0 1058.9,496.7 1070.0,493.3 C1081.1,489.9 1091.6,487.1 1103.3,484.2 C1115.0,481.3 1123.9,479.9 1140.0,475.8 C1156.1,471.7 1183.0,463.8 1200.0,459.5 C1217.0,455.2 1230.0,452.4 1241.7,449.8 C1253.4,447.2 1260.3,445.6 1270.0,444.0 C1279.7,442.4 1290.0,441.0 1300.0,440.3 C1310.0,439.6 1321.8,439.1 1330.0,440.0 C1338.2,440.9 1344.2,441.8 1349.0,446.0 C1353.8,450.2 1356.4,456.0 1359.0,465.0 C1361.6,474.0 1363.3,488.7 1364.5,500.0 C1365.7,511.3 1366.0,522.0 1366.0,533.0 C1366.0,544.0 1365.4,555.5 1364.5,566.0 C1363.6,576.5 1362.2,588.8 1360.5,596.0 C1358.8,603.2 1356.4,604.3 1354.4,609.0 C1352.4,613.7 1351.0,617.8 1348.5,624.0 C1346.0,630.2 1342.9,638.6 1339.4,646.5 C1335.9,654.4 1331.6,663.9 1327.7,671.5 C1323.8,679.1 1320.0,685.4 1316.0,692.3 C1312.0,699.2 1307.5,706.1 1303.5,712.9 C1299.5,719.7 1296.0,725.4 1291.8,733.0 C1287.6,740.6 1283.3,751.0 1278.5,758.5 C1273.7,766.0 1268.9,772.1 1263.0,778.0 C1257.1,783.9 1249.7,789.6 1243.0,794.0 C1236.3,798.4 1234.7,799.4 1223.0,804.5 C1211.3,809.6 1191.8,817.2 1173.0,824.5 C1154.2,831.8 1131.3,840.2 1110.5,848.0 C1089.7,855.8 1066.8,863.8 1048.0,871.0 C1029.2,878.2 1015.5,883.8 998.0,891.0 C980.5,898.2 959.3,907.7 943.3,914.5 C927.2,921.3 915.6,927.4 901.7,932.0 C887.8,936.6 872.3,941.0 860.0,942.0 C847.7,943.0 837.0,940.5 828.0,938.0 C819.0,935.5 811.0,931.5 806.0,927.0 C801.0,922.5 798.5,916.7 798.0,911.0Z"/><path d="M760,640 L747.5,650 L701.8,789 C699.5,799 703,806 712.5,813 L791,907 L796.5,920 L880,760 L850,735 Z"/></clipPath>
<path d="M872.6,117 V235" fill="none" stroke="#000" stroke-width="4"/>
<path d="M1066.3,343 V194.8 H1473" fill="none" stroke="#000" stroke-width="4"/>
<path d="M517,458 H1001 V493 M1001,515.5 V539" fill="none" stroke="#000" stroke-width="4"/>
<path d="M368.8,641 H452" fill="none" stroke="#000" stroke-width="4"/>
<path d="M444.8,955.3 V822.8 H742" fill="none" stroke="#000" stroke-width="4"/>
<path d="M1097,622.8 H1501" fill="none" stroke="#000" stroke-width="4"/>
<path d="M972.9,629.5 V896.6 H1400" fill="none" stroke="#000" stroke-width="4"/>
<circle cx="1001.0" cy="504.2" r="10.4" fill="none" stroke="#000" stroke-width="4.2"/>
<circle cx="1001.0" cy="554.2" r="14.6" fill="none" stroke="#000" stroke-width="4.2"/>
<circle cx="757.0" cy="822.8" r="14.4" fill="none" stroke="#000" stroke-width="4.2"/>
<circle cx="1083.6" cy="622.6" r="11.8" fill="none" stroke="#000" stroke-width="4.2"/>
<circle cx="972.9" cy="620.6" r="7.2" fill="none" stroke="#000" stroke-width="4.2"/>
<circle cx="1066.0" cy="387.5" r="44.5" fill="none" stroke="#000" stroke-width="4.2"/>
<g clip-path="url(#bagclip)">
<path d="M872.6,117 V235" fill="none" stroke="#fff" stroke-width="4"/>
<path d="M1066.3,343 V194.8 H1473" fill="none" stroke="#fff" stroke-width="4"/>
<path d="M517,458 H1001 V493 M1001,515.5 V539" fill="none" stroke="#fff" stroke-width="4"/>
<path d="M368.8,641 H452" fill="none" stroke="#fff" stroke-width="4"/>
<path d="M444.8,955.3 V822.8 H742" fill="none" stroke="#fff" stroke-width="4"/>
<path d="M1097,622.8 H1501" fill="none" stroke="#fff" stroke-width="4"/>
<path d="M972.9,629.5 V896.6 H1400" fill="none" stroke="#fff" stroke-width="4"/>
<circle cx="1001.0" cy="504.2" r="10.4" fill="none" stroke="#fff" stroke-width="4.2"/>
<circle cx="1001.0" cy="554.2" r="14.6" fill="none" stroke="#fff" stroke-width="4.2"/>
<circle cx="757.0" cy="822.8" r="14.4" fill="none" stroke="#fff" stroke-width="4.2"/>
<circle cx="1083.6" cy="622.6" r="11.8" fill="none" stroke="#fff" stroke-width="4.2"/>
<circle cx="972.9" cy="620.6" r="7.2" fill="none" stroke="#fff" stroke-width="4.2"/>
<circle cx="1066.0" cy="387.5" r="44.5" fill="none" stroke="#fff" stroke-width="4.2"/>
</g>
<filter id="fat" x="-2%" y="-10%" width="104%" height="120%"><feMorphology operator="dilate" radius="1 0" result="d"/><feComponentTransfer in="d" result="e"><feFuncA type="linear" slope="0.6"/></feComponentTransfer><feMerge><feMergeNode in="e"/><feMergeNode in="SourceGraphic"/></feMerge></filter>
<text x="724.0" y="104.0" font-size="47.5" textLength="285.1" lengthAdjust="spacingAndGlyphs" filter="url(#fat)">Lid Release Latch</text>
<text x="1493.0" y="210.2" font-size="47.5" textLength="214.0" lengthAdjust="spacingAndGlyphs" filter="url(#fat)">Key Lockable</text>
<text x="327.6" y="445.8" font-size="47.5" textLength="171.3" lengthAdjust="spacingAndGlyphs" filter="url(#fat)">Hard Shell</text>
<text x="327.6" y="491.3" font-size="47.5" textLength="165.6" lengthAdjust="spacingAndGlyphs" filter="url(#fat)">Lid &amp; Body</text>
<text x="69.0" y="654.0" font-size="47.5" textLength="279.0" lengthAdjust="spacingAndGlyphs" filter="url(#fat)">Quick Disconnect</text>
<text x="70.0" y="698.5" font-size="47.5" textLength="120.8" lengthAdjust="spacingAndGlyphs" filter="url(#fat)">System</text>
<text x="1522.6" y="637.0" font-size="47.5" textLength="300.0" lengthAdjust="spacingAndGlyphs" filter="url(#fat)">Internal Organizer</text>
<text x="1422.6" y="890.5" font-size="47.5" textLength="265.1" lengthAdjust="spacingAndGlyphs" filter="url(#fat)">Bracket Locking</text>
<text x="1423.6" y="936.0" font-size="47.5" textLength="122.7" lengthAdjust="spacingAndGlyphs" filter="url(#fat)">System</text>
<text x="282.2" y="1003.3" font-size="47.5" textLength="296.8" lengthAdjust="spacingAndGlyphs" filter="url(#fat)">Weather Resistant</text>
<text x="904.0" y="1164.3" font-size="47.5" textLength="376.9" lengthAdjust="spacingAndGlyphs" filter="url(#fat)">American Engineering</text>
<rect x="770.6" y="1122.6" width="86.3" height="52" fill="#fff"/>
<rect x="770.6" y="1122.60" width="86.3" height="4.00" fill="#e0313d"/>
<rect x="770.6" y="1130.60" width="86.3" height="4.00" fill="#e0313d"/>
<rect x="770.6" y="1138.60" width="86.3" height="4.00" fill="#e0313d"/>
<rect x="770.6" y="1146.60" width="86.3" height="4.00" fill="#e0313d"/>
<rect x="770.6" y="1154.60" width="86.3" height="4.00" fill="#e0313d"/>
<rect x="770.6" y="1162.60" width="86.3" height="4.00" fill="#e0313d"/>
<rect x="770.6" y="1170.60" width="86.3" height="4.00" fill="#e0313d"/>
<rect x="770.6" y="1122.6" width="34.7" height="28.00" fill="#2b3990"/>
<g fill="#fff"><circle cx="773.49" cy="1125.40" r="1.05"/><circle cx="779.27" cy="1125.40" r="1.05"/><circle cx="785.06" cy="1125.40" r="1.05"/><circle cx="790.84" cy="1125.40" r="1.05"/><circle cx="796.62" cy="1125.40" r="1.05"/><circle cx="802.41" cy="1125.40" r="1.05"/><circle cx="776.38" cy="1128.20" r="1.05"/><circle cx="782.17" cy="1128.20" r="1.05"/><circle cx="787.95" cy="1128.20" r="1.05"/><circle cx="793.73" cy="1128.20" r="1.05"/><circle cx="799.52" cy="1128.20" r="1.05"/><circle cx="773.49" cy="1131.00" r="1.05"/><circle cx="779.27" cy="1131.00" r="1.05"/><circle cx="785.06" cy="1131.00" r="1.05"/><circle cx="790.84" cy="1131.00" r="1.05"/><circle cx="796.62" cy="1131.00" r="1.05"/><circle cx="802.41" cy="1131.00" r="1.05"/><circle cx="776.38" cy="1133.80" r="1.05"/><circle cx="782.17" cy="1133.80" r="1.05"/><circle cx="787.95" cy="1133.80" r="1.05"/><circle cx="793.73" cy="1133.80" r="1.05"/><circle cx="799.52" cy="1133.80" r="1.05"/><circle cx="773.49" cy="1136.60" r="1.05"/><circle cx="779.27" cy="1136.60" r="1.05"/><circle cx="785.06" cy="1136.60" r="1.05"/><circle cx="790.84" cy="1136.60" r="1.05"/><circle cx="796.62" cy="1136.60" r="1.05"/><circle cx="802.41" cy="1136.60" r="1.05"/><circle cx="776.38" cy="1139.40" r="1.05"/><circle cx="782.17" cy="1139.40" r="1.05"/><circle cx="787.95" cy="1139.40" r="1.05"/><circle cx="793.73" cy="1139.40" r="1.05"/><circle cx="799.52" cy="1139.40" r="1.05"/><circle cx="773.49" cy="1142.20" r="1.05"/><circle cx="779.27" cy="1142.20" r="1.05"/><circle cx="785.06" cy="1142.20" r="1.05"/><circle cx="790.84" cy="1142.20" r="1.05"/><circle cx="796.62" cy="1142.20" r="1.05"/><circle cx="802.41" cy="1142.20" r="1.05"/><circle cx="776.38" cy="1145.00" r="1.05"/><circle cx="782.17" cy="1145.00" r="1.05"/><circle cx="787.95" cy="1145.00" r="1.05"/><circle cx="793.73" cy="1145.00" r="1.05"/><circle cx="799.52" cy="1145.00" r="1.05"/><circle cx="773.49" cy="1147.80" r="1.05"/><circle cx="779.27" cy="1147.80" r="1.05"/><circle cx="785.06" cy="1147.80" r="1.05"/><circle cx="790.84" cy="1147.80" r="1.05"/><circle cx="796.62" cy="1147.80" r="1.05"/><circle cx="802.41" cy="1147.80" r="1.05"/></g>
</svg>
</body></html>
